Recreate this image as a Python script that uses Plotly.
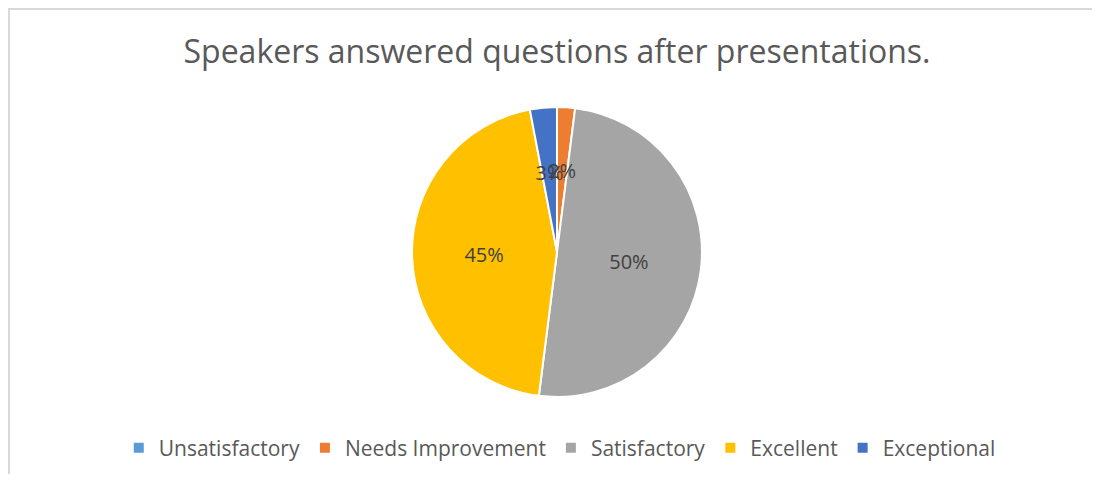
import plotly.graph_objects as go

categories = ["Unsatisfactory", "Needs Improvement", "Satisfactory", "Excellent", "Exceptional"]
values = [0, 2, 50, 45, 3]
colors = ["#5B9BD5", "#ED7D31", "#A5A5A5", "#FFC000", "#4472C4"]
title_text = "Speakers answered questions after presentations."

# figure size accounts for the 8px default page margin of the html body
W, H = 1084, 466

# big slices get their labels on the main pie; the thin ones on an inner label ring
big_templates = ["%{percent:.0%}" if v >= 10 else "" for v in values]
small_templates = ["%{percent:.0%}" if 0 < v < 10 else "" for v in values]

cx, cy, r = 549, 244, 145
r_lab = 87

def dom(radius):
    return dict(
        x=[cx / W - 0.3, cx / W + 0.3],
        y=[(H - cy - radius) / H, (H - cy + radius) / H],
    )

fig = go.Figure()
fig.add_trace(
    go.Pie(
        labels=categories,
        values=values,
        sort=False,
        direction="clockwise",
        rotation=0,
        marker=dict(colors=colors, line=dict(color="white", width=2)),
        texttemplate=big_templates,
        textposition="inside",
        insidetextorientation="horizontal",
        textfont=dict(family="Open Sans", size=20, color="#404040"),
        hoverinfo="label+percent",
        domain=dom(r),
    )
)
fig.add_trace(
    go.Pie(
        labels=categories,
        values=values,
        sort=False,
        direction="clockwise",
        rotation=0,
        marker=dict(colors=["rgba(0,0,0,0)"] * len(values), line=dict(width=0)),
        texttemplate=small_templates,
        textposition="inside",
        insidetextorientation="horizontal",
        textfont=dict(family="Open Sans", size=20, color="#404040"),
        hoverinfo="skip",
        showlegend=False,
        domain=dom(r_lab),
    )
)

fig.update_layout(
    width=W,
    height=H,
    margin=dict(l=0, r=0, t=0, b=0),
    paper_bgcolor="white",
    plot_bgcolor="white",
    title=dict(
        text=title_text,
        x=cx / W,
        xanchor="center",
        y=1 - 44 / H,
        yanchor="middle",
        yref="container",
        font=dict(family="Open Sans", size=32, color="#595959"),
    ),
    legend=dict(
        orientation="h",
        x=0.509,
        xanchor="center",
        y=(H - 440) / H,
        yanchor="middle",
        font=dict(family="Open Sans", size=21, color="#595959"),
    ),
    uniformtext=dict(minsize=20, mode="show"),
    shapes=[
        dict(
            type="line",
            xref="paper",
            yref="paper",
            x0=1 / W,
            x1=1 / W,
            y0=-0.5,
            y1=1 - 1 / H,
            line=dict(color="#D9D9D9", width=2),
            layer="below",
        ),
        dict(
            type="line",
            xref="paper",
            yref="paper",
            x0=0,
            x1=1.5,
            y0=1 - 1 / H,
            y1=1 - 1 / H,
            line=dict(color="#D9D9D9", width=2),
            layer="below",
        ),
    ],
)

fig.write_html("out.html")
